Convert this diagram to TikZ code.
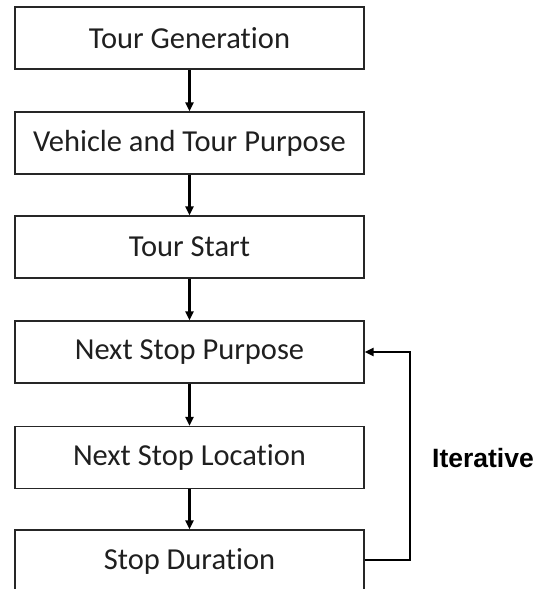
\documentclass[tikz,border=0pt]{standalone}
\usepackage{fontspec}
\setmainfont{Carlito}[Ligatures=CommonOff]
\newfontfamily\arialfont{Liberation Sans}
\usetikzlibrary{arrows.meta}
\begin{document}
\begin{tikzpicture}[x=1pt,y=-1pt,
  stepbox/.style={draw=black!85, line width=1.4pt, minimum width=349pt, minimum height=62pt,
    inner sep=0pt, font=\fontsize{30.5}{36}\selectfont, text=black!88},
  conn/.style={line width=2.4pt, -{Triangle[length=9pt,width=8pt]}}]
\useasboundingbox (0,0) rectangle (537,589);
\clip (0,0) rectangle (537,589);
\node[stepbox] (b1) at (189.5,38) {Tour Generation};
\node[stepbox] (b2) at (189.5,143) {Vehicle and Tour Purpose};
\node[stepbox] (b3) at (189.5,247) {Tour Start};
\node[stepbox] (b4) at (189.5,352) {Next Stop Purpose};
\node[stepbox] (b5) at (189.5,457.5) {Next Stop Location};
\node[stepbox] (b6) at (189.5,561) {Stop Duration};
\draw[conn] (b1) -- (b2);
\draw[conn] (b2) -- (b3);
\draw[conn] (b3) -- (b4);
\draw[conn] (b4) -- (b5);
\draw[conn] (b5) -- (b6);
\coordinate (r1) at (410,560);
\coordinate (r2) at (410,352);
\draw[conn] (b6.east |- r1) -- (r1) -- (r2) -- (b4.east);
\node[font=\arialfont\bfseries\fontsize{26.5}{30}\selectfont, anchor=west, inner sep=0pt] (it) at (432,458) {Iterative};
\end{tikzpicture}
\end{document}
